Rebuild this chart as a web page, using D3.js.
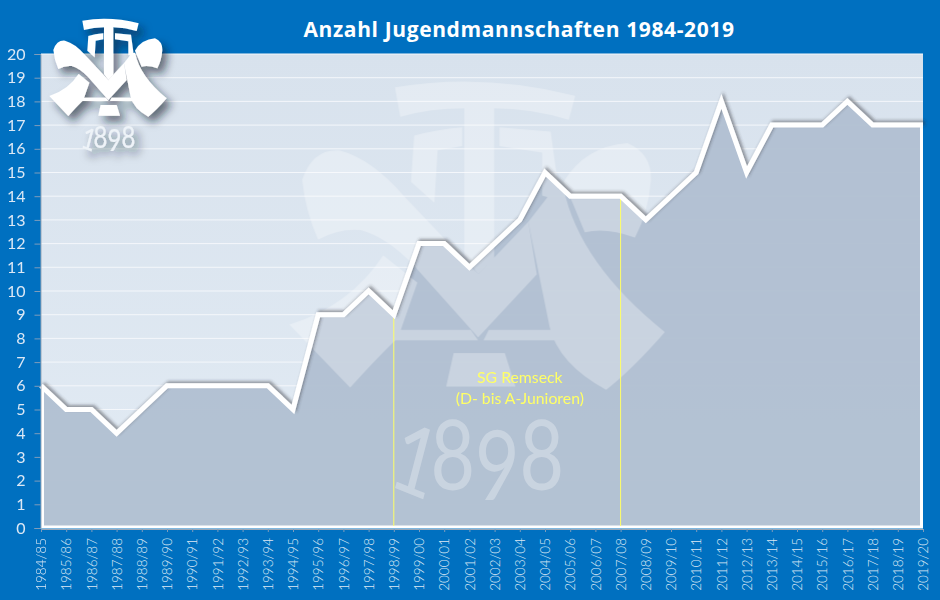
<!DOCTYPE html>
<html><head><meta charset="utf-8">
<script src="https://cdn.jsdelivr.net/npm/d3@7"></script>
<style>
html,body{margin:0;padding:0;background:#0070c0;overflow:hidden}
svg{display:block}
text{font-family:Lato,"Open Sans",sans-serif}
</style></head><body>
<svg id="c" width="940" height="600"></svg>
<script>
const chartTitle = "Anzahl Jugendmannschaften 1984-2019";
const seasons = ["1984/85","1985/86","1986/87","1987/88","1988/89","1989/90","1990/91","1991/92","1992/93","1993/94","1994/95","1995/96","1996/97","1997/98","1998/99","1999/00","2000/01","2001/02","2002/03","2003/04","2004/05","2005/06","2006/07","2007/08","2008/09","2009/10","2010/11","2011/12","2012/13","2013/14","2014/15","2015/16","2016/17","2017/18","2018/19","2019/20"];
const teams = [6,5,5,4,5,6,6,6,6,6,5,9,9,10,9,12,12,11,12,13,15,14,14,14,13,14,15,18,15,17,17,17,18,17,17,17];
const yTicks = d3.range(0,21);
const markerSeasons = ["1998/99","2007/08"];
const noteLines = ["SG Remseck","(D- bis A-Junioren)"];
const noteSeason = "2003/04";
const logoYear = "1898";

// Crest outline (decoration), traced in a 3x frame of the small logo
const crest = [
 "M247,62 Q330,48 416,70 L410,93 Q375,82 340,82 L340,225 L325,240 L312,222 L312,82 Q280,82 252,90 Z",
 "M265,108 Q285,102 310,100 L310,118 L287,122 L284,172 L262,152 Z",
 "M345,100 L393,104 L402,170 L385,165 L385,124 L345,118 Z",
 "M160,150 Q170,120 195,122 Q225,130 255,165 L330,245 L330,290 L325,300 L265,232 Q240,205 215,198 Q195,196 175,207 Q163,180 160,150 Z",
 "M325,240 L372,190 L380,240 L325,300 Z",
 "M372,190 L395,160 L405,158 Q420,230 500,295 Q470,330 445,350 Q400,325 392,290 Z",
 "M236,222 L268,248 L250,300 Q225,325 205,348 L148,288 Q205,270 236,222 Z",
 "M245,293 L318,293 L325,303 L240,303 Z",
 "M335,293 L400,293 L400,303 L330,303 Z",
 "M405,152 Q425,118 465,115 Q488,125 487,150 Q485,180 472,205 Q445,195 425,200 Q415,175 405,152 Z",
 "M302,315 L350,315 L360,347 L295,347 Z"
];

const svg = d3.select("#c");
const margin = {left:41, right:17, top:54, bottom:72};
const W = 940, H = 600;
const x = d3.scalePoint().domain(seasons).range([margin.left, W-margin.right]);
const y = d3.scaleLinear().domain([0,20]).range([H-margin.bottom, margin.top]);

const defs = svg.append("defs");
const grad = defs.append("linearGradient").attr("id","panel").attr("x1",0).attr("y1",0).attr("x2",0).attr("y2",1);
grad.append("stop").attr("offset","0").attr("stop-color","#d8e2ed");
grad.append("stop").attr("offset","1").attr("stop-color","#e2ebf4");
const f1 = defs.append("filter").attr("id","lineShadow").attr("x","-5%").attr("y","-10%").attr("width","110%").attr("height","120%");
f1.append("feDropShadow").attr("dx",2).attr("dy",-2).attr("stdDeviation",1.6).attr("flood-color","#30343c").attr("flood-opacity",0.45);
const f2 = defs.append("filter").attr("id","logoShadow").attr("x","-20%").attr("y","-20%").attr("width","150%").attr("height","150%");
f2.append("feDropShadow").attr("dx",5).attr("dy",6).attr("stdDeviation",4).attr("flood-color","#10202f").attr("flood-opacity",0.6);

// plot panel
svg.append("rect").attr("x",x.range()[0]).attr("y",y(20)).attr("width",x.range()[1]-x.range()[0]).attr("height",y(0)-y(20)).attr("fill","url(#panel)");

// horizontal grid
svg.append("g").selectAll("line").data(yTicks.filter(d=>d>0)).join("line")
  .attr("x1",x.range()[0]).attr("x2",x.range()[1]).attr("y1",d=>y(d)).attr("y2",d=>y(d))
  .attr("stroke","#f4f7fb").attr("stroke-width",1);

// area
const area = d3.area().x((d,i)=>x(seasons[i])).y0(y(0)).y1(d=>y(d));
const line = d3.line().x((d,i)=>x(seasons[i])).y(d=>y(d));
svg.append("path").datum(teams).attr("d",area).attr("fill","#b1c0d1").attr("fill-opacity",0.96);

function addYear(sel, cx, base, size, fill){
  const g = sel.append("g").attr("transform",`translate(${cx},${base}) scale(0.8,1)`);
  g.append("text").attr("text-anchor","middle").attr("fill",fill)
    .attr("font-size",size).attr("font-weight",400)
    .attr("dy",[-0.08,0.06,0.1,-0.1].map(v=>(v*size).toFixed(1)).join(" "))
    .attr("rotate","18 0 0 0").text(logoYear);
}

// large watermark crest
const wm = svg.append("g").attr("opacity",0.3);
const wmC = wm.append("g").attr("transform","translate(131.5,22.3) scale(1.0667,1.05)");
wmC.selectAll("path").data(crest).join("path").attr("d",d=>d).attr("fill","#fff");
addYear(wm,475,492,96,"#fff");

// outer frame of the area: left, bottom, right (inside the plot box)
svg.append("path").attr("d",`M${x.range()[0]+1.5},${y(teams[0])}V${y(0)-1}H${x.range()[1]-1.5}V${y(teams[teams.length-1])}`)
  .attr("fill","none").attr("stroke","#fff").attr("stroke-width",3);

// marker lines
svg.append("g").selectAll("line").data(markerSeasons).join("line")
  .attr("x1",d=>x(d)).attr("x2",d=>x(d)).attr("y1",d=>y(teams[seasons.indexOf(d)])).attr("y2",y(0)-2)
  .attr("stroke","#ffff66").attr("stroke-width",1);

// series line
svg.append("path").datum(teams).attr("d",line).attr("fill","none").attr("stroke","#fff").attr("stroke-width",5)
  .attr("stroke-linejoin","miter").attr("filter","url(#lineShadow)");

// note
svg.append("g").selectAll("text").data(noteLines).join("text")
  .attr("x",x(noteSeason)).attr("y",(d,i)=>383+i*21).attr("text-anchor","middle")
  .attr("fill","#ffff66").attr("font-size",15.8).text(d=>d);

// axes
const gy = svg.append("g").attr("transform",`translate(${x.range()[0]-0.5},0)`)
  .call(d3.axisLeft(y).tickValues(yTicks).tickSize(6).tickPadding(9).tickFormat(d3.format("d")));
const gx = svg.append("g").attr("transform",`translate(0,${y(0)+1})`)
  .call(d3.axisBottom(x).tickSize(3).tickPadding(6));
[gy,gx].forEach(g=>{
  g.select(".domain").attr("stroke","#9aa8b8").attr("stroke-width",1);
  g.selectAll(".tick line").attr("stroke","#7f9cba");
  g.selectAll("text").attr("fill","#dce8f5").style("font-family","Lato,sans-serif");
});
gy.selectAll("text").attr("font-size",16);
gx.selectAll("text").attr("font-size",13.5).attr("font-weight",300).attr("text-anchor","end")
  .attr("transform","rotate(-90)").attr("x",-9).attr("y",0).attr("dy","0.35em");

// title
svg.append("text").attr("x",519).attr("y",37).attr("text-anchor","middle").attr("fill","#fff")
  .style("font-family","'Open Sans',sans-serif").attr("font-size",21).attr("letter-spacing",0.62).attr("font-weight",700).text(chartTitle);

// small crest
const lg = svg.append("g").attr("filter","url(#logoShadow)");
lg.append("g").attr("transform","scale(0.3333)").selectAll("path").data(crest).join("path").attr("d",d=>d).attr("fill","#fff");
addYear(lg,107.5,149,30,"#eef3f8");
</script>
</body></html>
